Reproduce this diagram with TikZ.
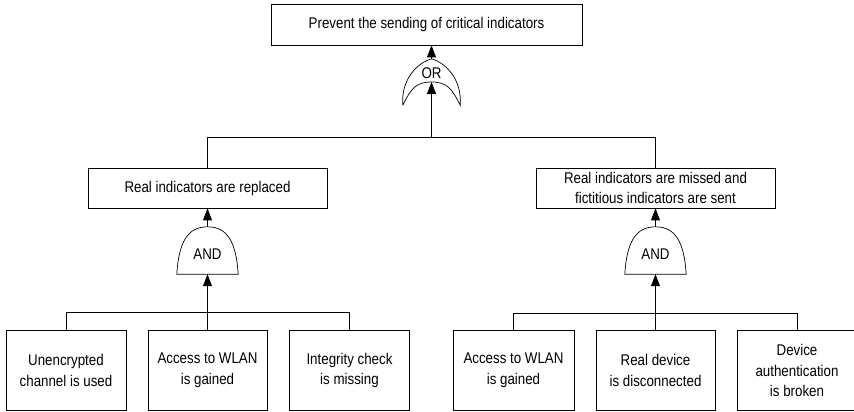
\documentclass[tikz,border=0pt]{standalone}
\usepackage{fontspec}
\setmainfont{Liberation Sans}[FakeStretch=0.86]
\usetikzlibrary{arrows.meta, positioning}

\begin{document}
\begin{tikzpicture}[x=1pt, y=-1pt,
          ev/.style={draw, line width=0.7pt, align=center, inner sep=0pt,
            font=\fontsize{15.5}{20.5}\selectfont},
          gt/.style={inner sep=0pt, font=\fontsize{15.5}{20.5}\selectfont},
          ln/.style={line width=0.7pt},
          ar/.style={line width=0.8pt, -{Triangle[length=12pt, width=9pt]}}
        ]
        \useasboundingbox (0,0) rectangle (854,412);
        % events
        \node[ev, minimum width=311, minimum height=41] (top) at (426.5,24.5) {Prevent the sending of critical indicators};
        \node[ev, minimum width=239, minimum height=40] (rep) at (207.5,188) {Real indicators are replaced};
        \node[ev, minimum width=239, minimum height=40] (mis) at (655.5,188) {Real indicators are missed and\\fictitious indicators are sent};
        \node[ev, minimum width=120, minimum height=80] (b1) at (66,370.5) {Unencrypted\\channel is used};
        \node[ev, minimum width=119, minimum height=80] (b2) at (207.5,370.5) {Access to WLAN\\is gained};
        \node[ev, minimum width=120, minimum height=80] (b3) at (349.5,370.5) {Integrity check\\is missing};
        \node[ev, minimum width=121, minimum height=80] (b4) at (513.5,370.5) {Access to WLAN\\is gained};
        \node[ev, minimum width=119, minimum height=80] (b5) at (655.5,370.5) {Real device\\is disconnected};
        \node[ev, minimum width=120, minimum height=80] (b6) at (797,370.5) {Device\\authentication\\is broken};
        % gates
        \node[gt, minimum width=57, minimum height=46, text height=0pt, text depth=7pt] (og) at (431.5,82) {OR};
        \node[gt, minimum width=61, minimum height=47, text height=18pt, text depth=0pt] (ag1) at (207.5,250.5) {AND};
        \node[gt, minimum width=61, minimum height=47, text height=18pt, text depth=0pt] (ag2) at (655.5,250.5) {AND};
        \draw[ln] (og.south west) .. controls +(-2,-26) and +(-14,4) .. (og.north)
          .. controls +(14,4) and +(2,-26) .. (og.south east)
          .. controls +(-8,-16) and +(16,0) .. (og.center)
          .. controls +(-16,0) and +(8,-16) .. (og.south west);
        \foreach \g in {ag1, ag2}
          \draw[ln] (\g.south west) .. controls +(2,-32) and +(-20,0) .. (\g.north)
            .. controls +(20,0) and +(-2,-32) .. (\g.south east) -- cycle;
        % links
        \coordinate (j0) at (431.5,137.5);
        \draw[ln] (rep.north) |- (j0) -| (mis.north);
        \draw[ar] (j0) -- (og.center);
        \draw[ar] (og.north) -- (og.north |- top.south);
        \draw[ar] (ag1.north) -- (rep.south);
        \draw[ar] (ag2.north) -- (mis.south);
        \draw[ln] (b1.north) -- ++(0,-18) -| (b3.north);
        \draw[ln] (b4.north) -- ++(0,-17) -| (b6.north);
        \draw[ar] (b2.north) -- (ag1.south);
        \draw[ar] (b5.north) -- (ag2.south);
      \end{tikzpicture}
\end{document}
